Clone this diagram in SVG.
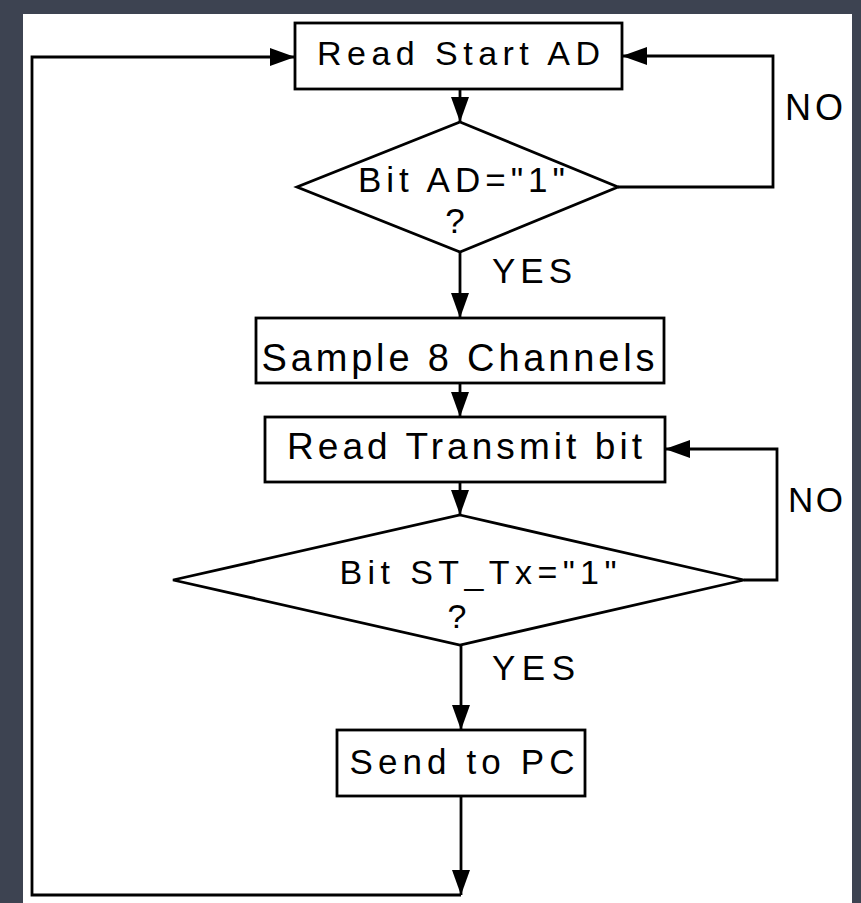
<svg xmlns="http://www.w3.org/2000/svg" width="861" height="903" viewBox="0 0 861 903">
<defs>
<marker id="ah" markerUnits="userSpaceOnUse" markerWidth="26" markerHeight="20" refX="25" refY="9" orient="auto">
<path d="M0,0 L25,9 L0,18 Z" fill="#000"/>
</marker>
<style>
.box{fill:#fff;stroke:#000;stroke-width:2.8}
.con{fill:none;stroke:#000;stroke-width:2.8}
.t{font-family:"Liberation Sans",Arial,sans-serif;fill:#000;text-anchor:middle}
.lbl{font-family:"Liberation Sans",Arial,sans-serif;fill:#000}
</style>
</defs>
<rect x="0" y="0" width="861" height="903" fill="#3d4351"/>
<rect x="23" y="14" width="829" height="889" fill="#fff"/>
<g id="connectors">
<line class="con" x1="460" y1="89" x2="460" y2="122" marker-end="url(#ah)"/>
<line class="con" x1="460" y1="252" x2="460" y2="318" marker-end="url(#ah)"/>
<line class="con" x1="460" y1="383" x2="460" y2="417" marker-end="url(#ah)"/>
<line class="con" x1="460" y1="482" x2="460" y2="515" marker-end="url(#ah)"/>
<line class="con" x1="461" y1="645" x2="461" y2="730" marker-end="url(#ah)"/>
<line class="con" x1="461" y1="796" x2="461" y2="895" marker-end="url(#ah)"/>
<path class="con" d="M461,895 H32 V57 H295" marker-end="url(#ah)"/>
<path class="con" d="M618,187 H773 V56 H622" marker-end="url(#ah)"/>
<path class="con" d="M744,580 H777 V449 H665" marker-end="url(#ah)"/>
<text class="lbl" x="492" y="283" font-size="35" textLength="80" lengthAdjust="spacing">YES</text>
<text class="lbl" x="492" y="680" font-size="35" textLength="83" lengthAdjust="spacing">YES</text>
<text class="lbl" x="785" y="120" font-size="36" textLength="58" lengthAdjust="spacing">NO</text>
<text class="lbl" x="788" y="512" font-size="35" textLength="55" lengthAdjust="spacing">NO</text>
</g>
<g id="read-start-ad">
<rect class="box" x="295" y="23" width="327" height="66"/>
<text class="t" x="458.5" y="65" font-size="34" textLength="283" lengthAdjust="spacing">Read Start AD</text>
</g>
<g id="bit-ad">
<polygon class="box" points="460,122 618,187 460,252 297,187"/>
<text class="t" x="461.5" y="192" font-size="35" textLength="207" lengthAdjust="spacing">Bit AD="1"</text>
<text class="t" x="455" y="233" font-size="35">?</text>
</g>
<g id="sample">
<rect class="box" x="256" y="318" width="408" height="65"/>
<text class="t" x="458" y="371" font-size="38" textLength="393" lengthAdjust="spacing">Sample 8 Channels</text>
</g>
<g id="read-transmit">
<rect class="box" x="265" y="417" width="400" height="65"/>
<text class="t" x="464.5" y="459" font-size="37" textLength="355" lengthAdjust="spacing">Read Transmit bit</text>
</g>
<g id="bit-st-tx">
<polygon class="box" points="460,515 744,580 460,645 173,580"/>
<text class="t" x="478" y="584" font-size="34" textLength="277" lengthAdjust="spacing">Bit ST_Tx="1"</text>
<text class="t" x="457" y="628" font-size="34">?</text>
</g>
<g id="send-to-pc">
<rect class="box" x="337" y="730" width="248" height="66"/>
<text class="t" x="462" y="774" font-size="35" textLength="225" lengthAdjust="spacing">Send to PC</text>
</g>
</svg>
